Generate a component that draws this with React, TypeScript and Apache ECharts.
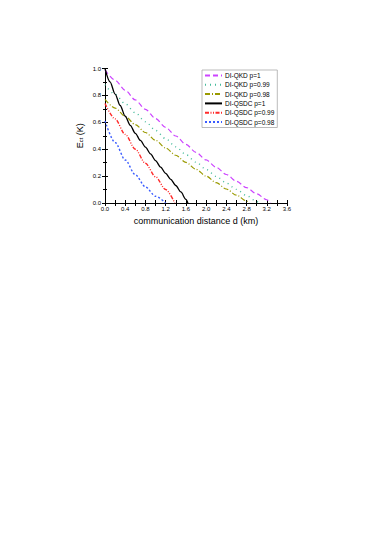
import React, { useEffect, useRef } from "react";
import * as echarts from "echarts";

const seriesNames = [
  "DI-QKD p=1",
  "DI-QKD p=0.99",
  "DI-QKD p=0.98",
  "DI-QSDC p=1",
  "DI-QSDC p=0.99",
  "DI-QSDC p=0.98",
];

const qkd1X = [0, 0.2, 0.4, 0.6, 0.8, 1.0, 1.2, 1.4, 1.6, 1.8, 2.0, 2.2, 2.4, 2.6, 2.8, 3.0, 3.2, 3.28];
const qkd1Y = [0.99, 0.913, 0.838, 0.766, 0.696, 0.628, 0.562, 0.498, 0.436, 0.377, 0.32, 0.265, 0.212, 0.162, 0.114, 0.068, 0.024, 0];

const qkd099X = [0, 0.2, 0.4, 0.6, 0.8, 1.0, 1.2, 1.4, 1.6, 1.8, 2.0, 2.2, 2.4, 2.6, 2.8, 3.0, 3.05];
const qkd099Y = [0.88, 0.808, 0.738, 0.67, 0.604, 0.54, 0.478, 0.418, 0.36, 0.304, 0.25, 0.198, 0.149, 0.101, 0.055, 0.011, 0];

const qkd098X = [0, 0.2, 0.4, 0.6, 0.8, 1.0, 1.2, 1.4, 1.6, 1.8, 2.0, 2.2, 2.4, 2.6, 2.8, 2.86];
const qkd098Y = [0.77, 0.706, 0.644, 0.583, 0.524, 0.466, 0.409, 0.355, 0.302, 0.251, 0.2, 0.151, 0.104, 0.058, 0.015, 0];

const qsdc1X = [0, 0.1, 0.2, 0.3, 0.4, 0.5, 0.6, 0.7, 0.8, 0.9, 1.0, 1.1, 1.2, 1.3, 1.4, 1.5, 1.6, 1.64];
const qsdc1Y = [1.0, 0.9, 0.81, 0.725, 0.645, 0.577, 0.518, 0.465, 0.415, 0.365, 0.315, 0.267, 0.22, 0.176, 0.13, 0.082, 0.027, 0];

const qsdc099X = [0, 0.2, 0.4, 0.6, 0.8, 1.0, 1.2, 1.38];
const qsdc099Y = [0.74, 0.625, 0.51, 0.4, 0.295, 0.195, 0.1, 0];

const qsdc098X = [0, 0.2, 0.4, 0.6, 0.8, 1.0, 1.2];
const qsdc098Y = [0.61, 0.45, 0.32, 0.21, 0.12, 0.05, 0];

const colors = ["#cc44ff", "#44bb9a", "#9a9a00", "#000000", "#ff2a2a", "#3a5cff"];
const dashes: any[] = [[5, 3], [1, 4], [5, 2, 1, 2], "solid", [4, 1.5, 1, 1.5, 1, 1.5], [2, 2]];
const widths = [1.2, 1.4, 1.2, 1.3, 1.4, 1.4];

const xTicks = [0, 0.4, 0.8, 1.2, 1.6, 2.0, 2.4, 2.8, 3.2, 3.6];

const allX = [qkd1X, qkd099X, qkd098X, qsdc1X, qsdc099X, qsdc098X];
const allY = [qkd1Y, qkd099Y, qkd098Y, qsdc1Y, qsdc099Y, qsdc098Y];

const FONT = "Liberation Sans";

export default function App() {
  const ref = useRef<HTMLDivElement>(null);
  useEffect(() => {
    if (!ref.current) return;
    const chart = echarts.init(ref.current, null, { renderer: "svg" });
    const grid = { left: 105, top: 68.5, width: 182, height: 134.5 };
    const axisLine = { show: true, lineStyle: { color: "#000", width: 1 } };
    chart.setOption({
      animation: false,
      backgroundColor: "#fff",
      grid,
      legend: {
        orient: "vertical",
        left: 202,
        top: 70,
        data: seriesNames,
        itemWidth: 17,
        itemHeight: 6,
        itemGap: 2.3,
        padding: [2, 3, 2, 2],
        borderColor: "#aaa",
        borderWidth: 0.8,
        backgroundColor: "#fff",
        itemStyle: { opacity: 0 },
        textStyle: { fontFamily: FONT, fontSize: 6.5, color: "#000", lineHeight: 6, padding: [0, 0, 0, -2] },
      },
      xAxis: [
        {
          type: "value",
          min: 0,
          max: 3.6,
          interval: 0.2,
          position: "bottom",
          name: "communication distance d (km)",
          nameLocation: "middle",
          nameGap: 13,
          nameTextStyle: { fontFamily: FONT, fontSize: 9, color: "#000" },
          axisLine,
          axisTick: { show: true, inside: true, length: 3, lineStyle: { color: "#000" } },
          axisLabel: {
            fontFamily: FONT,
            fontSize: 6,
            color: "#000",
            margin: 3,
            formatter: (v: number) => {
              const t = xTicks.find((k) => Math.abs(k - v) < 1e-6);
              return t !== undefined ? t.toFixed(1) : "";
            },
          },
          splitLine: { show: false },
        },
        {
          type: "value",
          min: 0,
          max: 3.6,
          interval: 0.2,
          position: "top",
          axisLine,
          axisTick: { show: true, inside: true, length: 3, lineStyle: { color: "#000" } },
          axisLabel: { show: false },
          splitLine: { show: false },
        },
      ],
      yAxis: [
        {
          type: "value",
          min: 0,
          max: 1.0,
          interval: 0.2,
          position: "left",
          name: "E{sub|ct} (K)",
          nameLocation: "middle",
          nameGap: 21,
          nameRotate: 90,
          nameTextStyle: {
            fontFamily: FONT,
            fontSize: 9,
            color: "#000",
            rich: { sub: { fontFamily: FONT, fontSize: 6, color: "#000", verticalAlign: "bottom", padding: [3, 0, 0, 0] } },
          },
          axisLine,
          axisTick: { show: true, inside: true, length: 3, lineStyle: { color: "#000" } },
          minorTick: { show: true, splitNumber: 2, length: 2, lineStyle: { color: "#000" } },
          axisLabel: {
            fontFamily: FONT,
            fontSize: 6,
            color: "#000",
            margin: 4,
            formatter: (v: number) => v.toFixed(1),
          },
          splitLine: { show: false },
        },
        {
          type: "value",
          min: 0,
          max: 1.0,
          interval: 0.2,
          position: "right",
          axisLine,
          axisTick: { show: true, inside: true, length: 3, lineStyle: { color: "#000" } },
          minorTick: { show: true, splitNumber: 2, length: 2, lineStyle: { color: "#000" } },
          axisLabel: { show: false },
          splitLine: { show: false },
        },
      ],
      series: seriesNames.map((name, i) => ({
        name,
        type: "line",
        xAxisIndex: 0,
        yAxisIndex: 0,
        data: allX[i].map((x, j) => [x, allY[i][j]]),
        showSymbol: false,
        symbol: "none",
        smooth: 0.3,
        smoothMonotone: "x",
        color: colors[i],
        lineStyle: { color: colors[i], width: widths[i], type: dashes[i] },
      })),
    });
    return () => chart.dispose();
  }, []);
  return (
    <div
      ref={ref}
      style={{ position: "absolute", left: 0, top: 0, width: 382, height: 540, background: "#fff" }}
    />
  );
}
